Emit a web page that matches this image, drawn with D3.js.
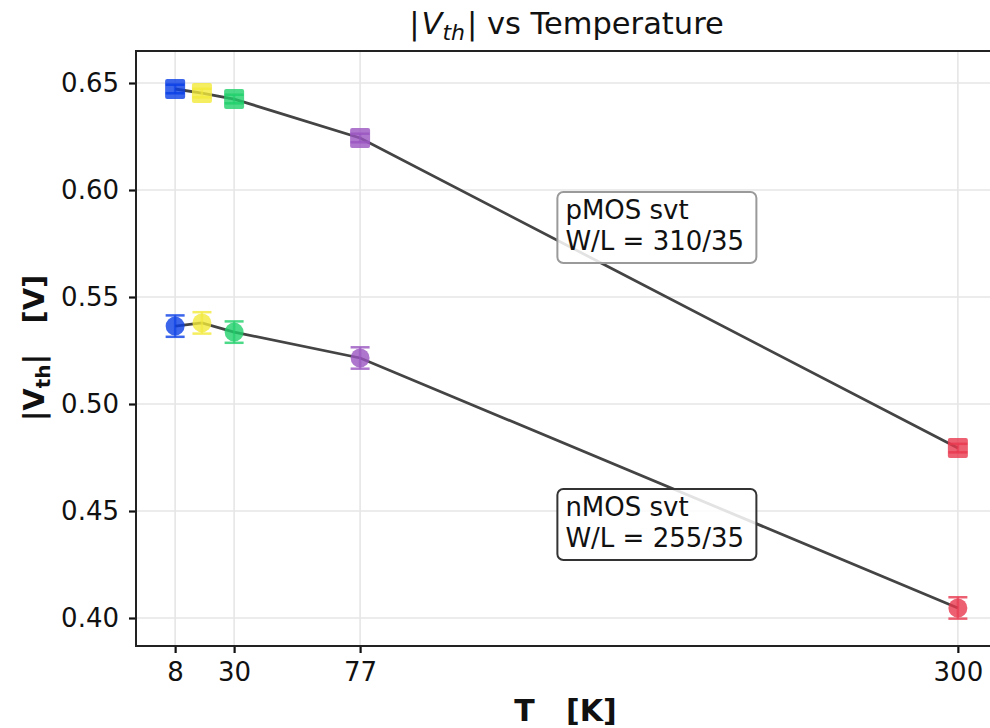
<!DOCTYPE html>
<html>
<head>
<meta charset="utf-8">
<script src="https://cdn.jsdelivr.net/npm/d3@7"></script>
<style>
  body { margin: 0; background: #fff; }
  svg { font-family: "DejaVu Sans", sans-serif; }
</style>
</head>
<body>
<svg id="chart" width="990" height="728"></svg>
<script>
// temperatures (K) and colours of each point
const temps = [8, 18, 30, 77, 300];
const pointColors = ['#0a3ee6', '#f2ea3a', '#1fcf6a', '#9a55c0', '#e8384f'];

// |Vth|
const pmosVth = [0.6472, 0.6453, 0.6425, 0.6243, 0.4794];
const pmosErr = [0.002, 0.002, 0.002, 0.002, 0.002];
const nmosVth = [0.5364, 0.5379, 0.5336, 0.5215, 0.4047];
const nmosErr = [0.005, 0.005, 0.005, 0.005, 0.005];

const xTicks = [8, 30, 77, 300];
const yTicks = [0.40, 0.45, 0.50, 0.55, 0.60, 0.65];

const notes = [
    { lines: ['pMOS svt', 'W/L = 310/35'], t: 150.6, v: 0.5991, border: '#9a9a9a' },
    { lines: ['nMOS svt', 'W/L = 255/35'], t: 150.6, v: 0.4603, border: '#333' }
];

const svg = d3.select('#chart');
const mLeft = 136, mRight = 997, mTop = 51, mBottom = 646;

const x = d3.scaleLinear().domain([-6.6, 314.6]).range([mLeft, mRight]);
const y = d3.scaleLinear().domain([0.40 - 28 / 2140, 0.65 + 32 / 2140]).range([mBottom, mTop]);

// grid
const grid = svg.append('g').attr('stroke', '#e6e6e6').attr('stroke-width', 1.6);
grid.selectAll('.gx').data(xTicks).enter().append('line')
    .attr('x1', d => x(d)).attr('x2', d => x(d))
    .attr('y1', mTop).attr('y2', mBottom);
grid.selectAll('.gy').data(yTicks).enter().append('line')
    .attr('x1', mLeft).attr('x2', mRight)
    .attr('y1', d => y(d)).attr('y2', d => y(d));

// axes
const xAxis = svg.append('g')
    .attr('transform', `translate(0,${mBottom})`)
    .call(d3.axisBottom(x).tickValues(xTicks).tickSize(7).tickPadding(10).tickFormat(d3.format('d')));
const yAxis = svg.append('g')
    .attr('transform', `translate(${mLeft},0)`)
    .call(d3.axisLeft(y).tickValues(yTicks).tickSize(7).tickPadding(10).tickFormat(d3.format('.2f')));
[xAxis, yAxis].forEach(a => {
    a.select('.domain').remove();
    a.selectAll('.tick line').attr('stroke', '#111').attr('stroke-width', 2.2);
    a.selectAll('.tick text').attr('fill', '#111').attr('font-size', 26)
        .attr('font-family', '"DejaVu Sans", sans-serif');
});

// frame
svg.append('rect')
    .attr('x', mLeft).attr('y', mTop)
    .attr('width', mRight - mLeft).attr('height', mBottom - mTop)
    .attr('fill', 'none').attr('stroke', '#222').attr('stroke-width', 2);

function drawSeries(vals, errs, shape) {
    const pts = temps.map((t, i) => ({ t, v: vals[i], e: errs[i], c: pointColors[i] }));
    svg.append('path')
        .datum(pts)
        .attr('fill', 'none')
        .attr('stroke', '#444')
        .attr('stroke-width', 2.8)
        .attr('d', d3.line().x(d => x(d.t)).y(d => y(d.v)));

    const g = svg.append('g').selectAll('g').data(pts).enter().append('g');
    if (shape === 'square') {
        g.append('rect')
            .attr('x', d => x(d.t) - 10).attr('y', d => y(d.v) - 10)
            .attr('width', 20).attr('height', 20).attr('rx', 2)
            .attr('fill', d => d.c).attr('fill-opacity', 0.8);
    } else {
        g.append('circle')
            .attr('cx', d => x(d.t)).attr('cy', d => y(d.v)).attr('r', 9.5)
            .attr('fill', d => d.c).attr('fill-opacity', 0.8);
    }
    // error bars
    g.append('line')
        .attr('x1', d => x(d.t)).attr('x2', d => x(d.t))
        .attr('y1', d => y(d.v - d.e)).attr('y2', d => y(d.v + d.e))
        .attr('stroke', d => d.c).attr('stroke-opacity', 0.6).attr('stroke-width', 2.5);
    [-1, 1].forEach(s => {
        g.append('line')
            .attr('x1', d => x(d.t) - 9.5).attr('x2', d => x(d.t) + 9.5)
            .attr('y1', d => y(d.v + s * d.e)).attr('y2', d => y(d.v + s * d.e))
            .attr('stroke', d => d.c).attr('stroke-opacity', 0.8).attr('stroke-width', 2.5);
    });
}

drawSeries(pmosVth, pmosErr, 'square');
drawSeries(nmosVth, nmosErr, 'circle');

// annotation boxes
notes.forEach(n => {
    const bx = x(n.t), by = y(n.v);
    svg.append('rect')
        .attr('x', bx).attr('y', by).attr('width', 199).attr('height', 71)
        .attr('rx', 6)
        .attr('fill', 'rgba(255,255,255,0.85)')
        .attr('stroke', n.border).attr('stroke-width', 2);
    const t = svg.append('text').attr('font-size', 26).attr('fill', '#111');
    n.lines.forEach((line, i) => {
        t.append('tspan').attr('x', bx + 8).attr('y', by + 27 + i * 31).text(line);
    });
});

// title
const title = svg.append('text')
    .attr('x', (mLeft + mRight) / 2).attr('y', 34)
    .attr('text-anchor', 'middle').attr('font-size', 30.5).attr('fill', '#111');
title.append('tspan').text('|');
title.append('tspan').attr('font-style', 'italic').attr('dx', 2).text('V');
title.append('tspan').attr('font-style', 'italic').attr('font-size', 22).attr('dy', 6).text('th');
title.append('tspan').attr('dy', -6).attr('dx', 2).text('| vs Temperature');

// axis labels
svg.append('text')
    .attr('x', (mLeft + mRight) / 2 - 1).attr('y', 721)
    .attr('text-anchor', 'middle').attr('font-size', 30).attr('font-weight', 'bold')
    .attr('fill', '#111').style('white-space', 'pre')
    .text('T   [K]');

const yl = svg.append('text')
    .attr('transform', 'translate(44,348) rotate(-90)')
    .attr('text-anchor', 'middle').attr('font-size', 29).attr('font-weight', 'bold')
    .attr('fill', '#111').style('white-space', 'pre');
yl.append('tspan').text('|V');
yl.append('tspan').attr('font-size', 20).attr('dy', 6).text('th');
yl.append('tspan').attr('dy', -6).text('|   [V]');
</script>
</body>
</html>
